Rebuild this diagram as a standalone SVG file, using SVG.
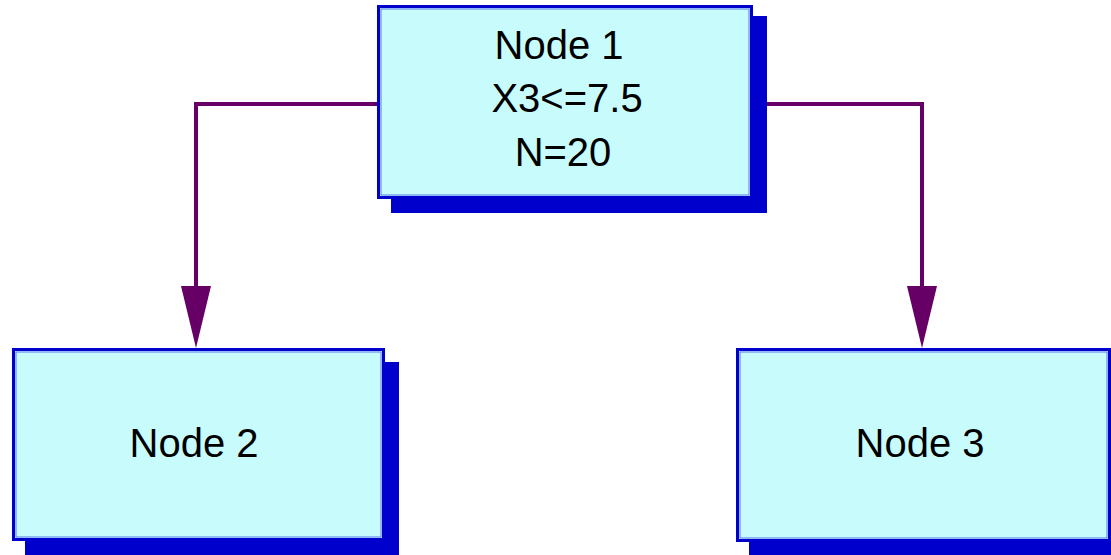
<svg xmlns="http://www.w3.org/2000/svg" width="1111" height="555" viewBox="0 0 1111 555">
<defs>
<style>
.shadow{fill:#0000cc;}
.box{fill:#c8fcfc;stroke:#0000cc;stroke-width:3;}
.inner{fill:none;stroke:#5577ee;stroke-width:1;}
.t{font-family:"Liberation Sans",Arial,sans-serif;font-size:40px;fill:#000;text-anchor:middle;}
.edge{fill:none;stroke:#660066;stroke-width:4;}
.head{fill:#660066;}
</style>
</defs>
<rect width="1111" height="555" fill="#fff"/>
<g id="connectors">
<polyline class="edge" points="378,104 196,104 196,300"/>
<polygon class="head" points="181,286 211,286 196,348"/>
<polyline class="edge" points="752,104 922,104 922,300"/>
<polygon class="head" points="907,286 937,286 922,348"/>
</g>
<g id="node1">
<rect class="shadow" x="391" y="16" width="376" height="197"/>
<rect class="box" x="378.5" y="6.5" width="373" height="191"/>
<rect class="inner" x="381" y="9" width="368" height="186"/>
<text class="t" x="559" y="59">Node 1</text>
<text class="t" x="567" y="112">X3&lt;=7.5</text>
<text class="t" x="563" y="166">N=20</text>
</g>
<g id="node2">
<rect class="shadow" x="25" y="362" width="374" height="200"/>
<rect class="box" x="13.5" y="349.5" width="370" height="190"/>
<rect class="inner" x="16" y="352" width="365" height="185"/>
<text class="t" x="194" y="457">Node 2</text>
</g>
<g id="node3">
<rect class="shadow" x="749" y="362" width="380" height="200"/>
<rect class="box" x="737.5" y="349.5" width="372" height="191"/>
<rect class="inner" x="740" y="352" width="367" height="186"/>
<text class="t" x="920" y="457">Node 3</text>
</g>
</svg>
